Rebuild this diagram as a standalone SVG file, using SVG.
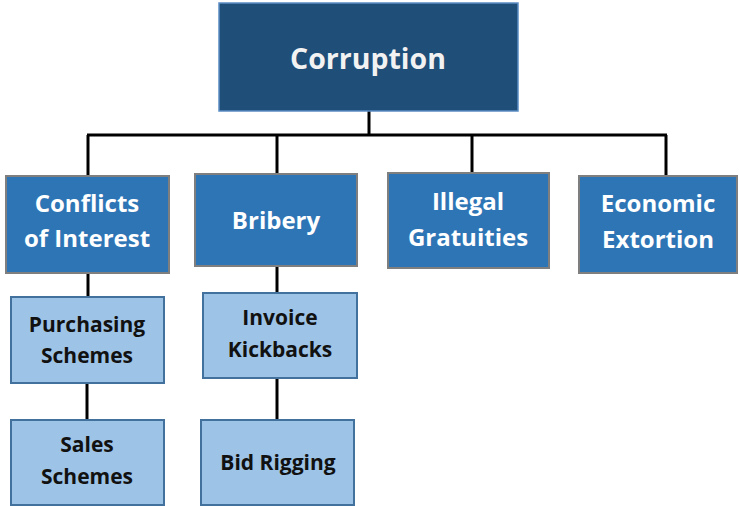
<svg xmlns="http://www.w3.org/2000/svg" width="739" height="506" viewBox="0 0 739 506">
<style>
text{font-family:"Open Sans","Liberation Sans",sans-serif;font-weight:bold;text-anchor:middle}
.l1 rect{fill:#1F4E79;stroke:#5B8DC4;stroke-width:1.5}
.l1 text{fill:#F2F2F2;font-size:28.5px}
.l2 rect{fill:#2E75B6;stroke:#7F7F7F;stroke-width:2}
.l2 text{fill:#FFFFFF;font-size:24px}
.l3 rect{fill:#9DC3E6;stroke:#41719C;stroke-width:2}
.l3 text{fill:#111111;font-size:21px}
.conn{stroke:#000;stroke-width:3;fill:none}
</style>
<g id="connectors" class="conn">
<line x1="369" y1="111" x2="369" y2="135"/>
<line x1="87" y1="135" x2="667" y2="135"/>
<line x1="88" y1="135" x2="88" y2="176"/>
<line x1="277" y1="135" x2="277" y2="174"/>
<line x1="472" y1="135" x2="472" y2="173"/>
<line x1="666" y1="135" x2="666" y2="176"/>
<line x1="88" y1="273" x2="88" y2="297"/>
<line x1="87" y1="383" x2="87" y2="420"/>
<line x1="277" y1="266" x2="277" y2="293"/>
<line x1="277" y1="378" x2="277" y2="420"/>
</g>
<g id="corruption" class="l1"><rect x="219" y="3" width="299" height="108"/><text x="368" y="69">Corruption</text></g>
<g id="conflicts" class="l2"><rect x="6" y="176" width="163" height="97"/><text x="87" y="212">Conflicts</text><text x="87" y="247">of Interest</text></g>
<g id="bribery" class="l2"><rect x="195" y="174" width="162" height="92"/><text x="276" y="229">Bribery</text></g>
<g id="illegal" class="l2"><rect x="388" y="173" width="161" height="95"/><text x="468" y="210">Illegal</text><text x="468" y="246">Gratuities</text></g>
<g id="economic" class="l2"><rect x="579" y="176" width="158" height="97"/><text x="658" y="212">Economic</text><text x="658" y="248">Extortion</text></g>
<g id="purchasing" class="l3"><rect x="11" y="297" width="153" height="86"/><text x="87" y="332">Purchasing</text><text x="87" y="363">Schemes</text></g>
<g id="sales" class="l3"><rect x="11" y="420" width="153" height="85"/><text x="87" y="452">Sales</text><text x="87" y="484">Schemes</text></g>
<g id="invoice" class="l3"><rect x="203" y="293" width="154" height="85"/><text x="280" y="325">Invoice</text><text x="280" y="357">Kickbacks</text></g>
<g id="bidrigging" class="l3"><rect x="201" y="420" width="153" height="85"/><text x="278" y="470">Bid Rigging</text></g>
</svg>
